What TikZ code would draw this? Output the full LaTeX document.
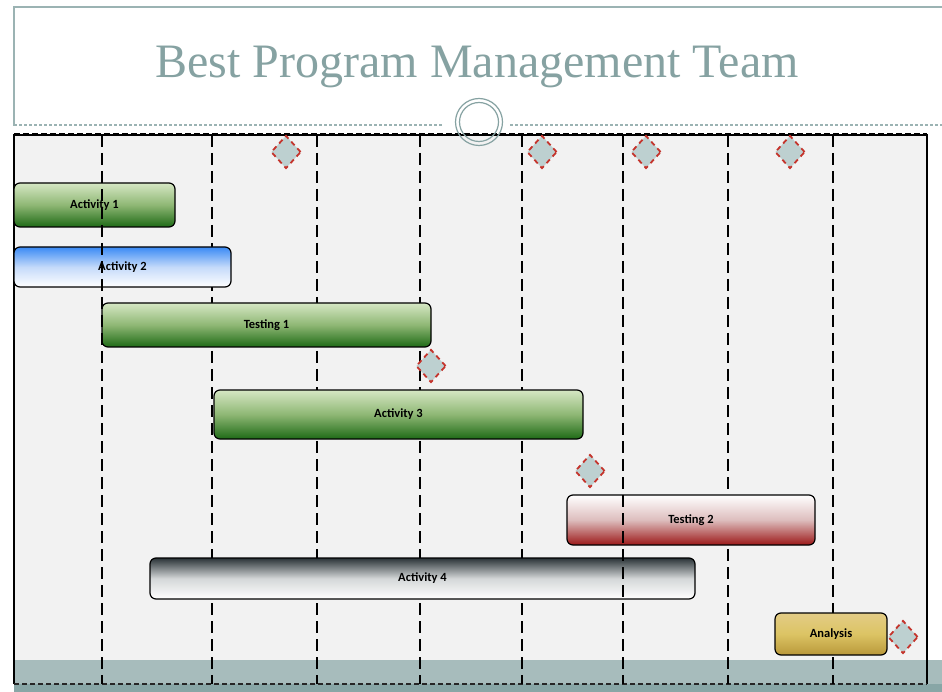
\documentclass[tikz,border=0pt]{standalone}
\usepackage{fontspec}
\setmainfont{Liberation Serif}
\newfontfamily\barfont{Carlito}
\usetikzlibrary{shapes.geometric}
\definecolor{tealline}{HTML}{9BB3B3}
\definecolor{titlecol}{HTML}{86A2A2}
\definecolor{chartbg}{HTML}{F2F2F2}
\definecolor{bandcol}{HTML}{A7BCBC}
\definecolor{bandbot}{HTML}{88A6A6}
\definecolor{msfill}{HTML}{BDD0D0}
\definecolor{msred}{HTML}{C4342C}
\definecolor{grtop}{HTML}{D6E7C4}
\definecolor{grbot}{HTML}{1E6A16}
\definecolor{grmid}{HTML}{8EB774}
\definecolor{bltop}{HTML}{3A8AF5}
\definecolor{blmid}{HTML}{C4DAFA}
\definecolor{rdbot}{HTML}{9C1818}
\definecolor{rdmid}{HTML}{DDBDBD}
\definecolor{gytop}{HTML}{2A3337}
\definecolor{gymid}{HTML}{D4D7D8}
\definecolor{gdtop}{HTML}{E3CC86}
\definecolor{gdbot}{HTML}{B9983A}
\definecolor{gdmid}{HTML}{DCC464}
\begin{document}
\begin{tikzpicture}[x=1pt,y=-1pt,
  bar/.style={draw=black, line width=1.2pt, rounded corners=6pt, inner sep=0pt,
    font=\barfont\bfseries\fontsize{12.5}{14}\selectfont},
  greenbar/.style={bar, top color=grtop, bottom color=grbot, middle color=grmid},
  vdash/.style={draw=black, line width=1.6pt, dash pattern=on 12pt off 6pt},
  milestone/.style={diamond, draw=msred, fill=msfill, line width=1.8pt,
    dash pattern=on 5pt off 4pt, inner sep=0pt, minimum width=30pt, minimum height=33pt},
  ringstyle/.style={circle, draw=titlecol, line width=1.2pt, inner sep=0pt}
]
\useasboundingbox (0,0) rectangle (942,692);
\fill[white] (0,0) rectangle (942,692);
% title frame
\draw[tealline, line width=1.2pt] (14,126) -- (14,7) -- (942,7);
\node[font=\fontsize{48}{56}\selectfont, text=titlecol, anchor=base] (title) at (477,78) {Best Program Management Team};
% chart area
\fill[chartbg] (14,135) rectangle (927,660);
\fill[bandcol] (14,660) rectangle (942,684);
\fill[bandbot] (14,684) rectangle (942,692);
\draw[black, line width=1.5pt] (14,684) -- (14,135) -- (927,135) -- (927,684);
\draw[black, line width=1.6pt, dash pattern=on 6pt off 3pt] (14,133.5) -- (927,133.5);
\draw[black!85, line width=1.4pt, dash pattern=on 5pt off 3pt] (14,684) -- (927,684);
% ring and dashed title rule
\node[ringstyle, minimum size=47pt] (ring) at (479,122) {};
\node[ringstyle, minimum size=39pt] (ringin) at (479,122) {};
\coordinate (rl) at (14,125);
\coordinate (rr) at (942,125);
\draw[tealline, line width=1.3pt, dash pattern=on 3pt off 2pt] (rl) -- ([xshift=-11pt]ring.west |- rl);
\draw[tealline, line width=1.3pt, dash pattern=on 3pt off 2pt] ([xshift=7pt]ring.east |- rr) -- (rr);
% vertical gridlines beneath bars
\foreach \x in {212,317,420,522,728,833} \draw[vdash] (\x,135) -- (\x,684);
% bars
\node[greenbar, minimum width=161pt, minimum height=44pt] (a1) at (94.5,205) {Activity 1};
\node[bar, top color=bltop, bottom color=white, middle color=blmid, minimum width=217pt, minimum height=40pt] (a2) at (122.5,267) {Activity 2};
\node[greenbar, minimum width=329pt, minimum height=44pt] (t1) at (266.5,325) {Testing 1};
\node[greenbar, minimum width=369pt, minimum height=49pt] (a3) at (398.5,414.5) {Activity 3};
\node[bar, top color=white, bottom color=rdbot, middle color=rdmid, minimum width=248pt, minimum height=50pt] (t2) at (691,520) {Testing 2};
\node[bar, top color=gytop, bottom color=white, middle color=gymid, minimum width=545pt, minimum height=41pt] (a4) at (422.5,578.5) {Activity 4};
\node[bar, top color=gdtop, bottom color=gdbot, middle color=gdmid, minimum width=112pt, minimum height=42pt] (an) at (831,634) {Analysis};
% gridlines drawn over bars
\foreach \x in {102,623} \draw[vdash] (\x,135) -- (\x,684);
% milestones
\node[milestone] (m1) at (286,152) {};
\node[milestone] (m2) at (542,152) {};
\node[milestone] (m3) at (646,152) {};
\node[milestone] (m4) at (790,152) {};
\node[milestone] (m5) at (431,366) {};
\node[milestone] (m6) at (590,471) {};
\node[milestone] (m7) at (903,637) {};
\end{tikzpicture}
\end{document}
